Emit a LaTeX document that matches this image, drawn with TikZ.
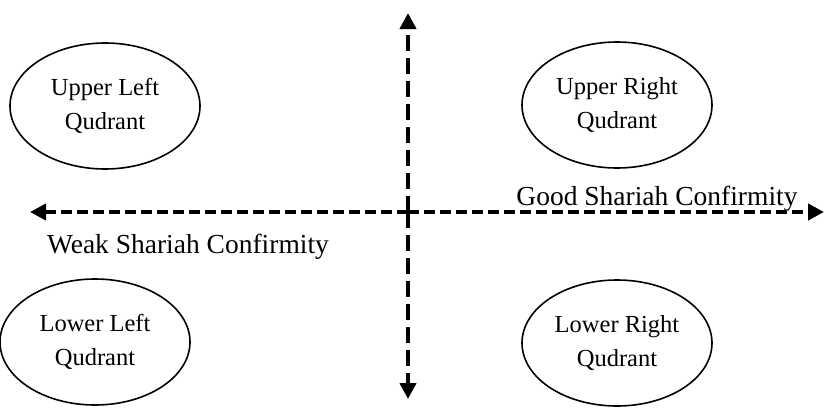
\documentclass[tikz,border=0pt]{standalone}
\usepackage{fontspec}
\setmainfont{Liberation Serif}
\usetikzlibrary{shapes.geometric,arrows.meta}
\begin{document}
\begin{tikzpicture}[x=1pt,y=-1pt,
  quad/.style={draw,line width=1.6pt,ellipse,minimum width=190pt,minimum height=126pt,align=center,font=\fontsize{24.5}{34}\selectfont,inner sep=0pt},
  axis/.style={line width=4pt,-{Triangle[length=16pt,width=16pt]}},
  vaxis/.style={axis,dash pattern=on 16pt off 7pt},
  haxis/.style={axis,dash pattern=on 11pt off 5pt},
  lab/.style={font=\fontsize{27.5}{30}\selectfont,inner sep=0pt}]
\useasboundingbox (0,0) rectangle (825,410);
\node[quad] (ul) at (105,106) {Upper Left\\Qudrant};
\node[quad] (ur) at (617,105) {Upper Right\\Qudrant};
\node[quad] (ll) at (95,342) {Lower Left\\Qudrant};
\node[quad] (lr) at (617,343) {Lower Right\\Qudrant};
\coordinate (o) at (408,212);
\coordinate (top) at (408,13);
\coordinate (bot) at (408,399);
\coordinate (lft) at (30,212);
\coordinate (rgt) at (824,212);
\draw[vaxis] (o) -- (top);
\draw[vaxis] (o) -- (bot);
\draw[haxis] (o) -- (lft);
\draw[haxis] (o) -- (rgt);
\node[lab] (weak) at (188,247) {Weak Shariah Confirmity};
\node[lab] (good) at (657,199) {Good Shariah Confirmity};
\end{tikzpicture}
\end{document}
